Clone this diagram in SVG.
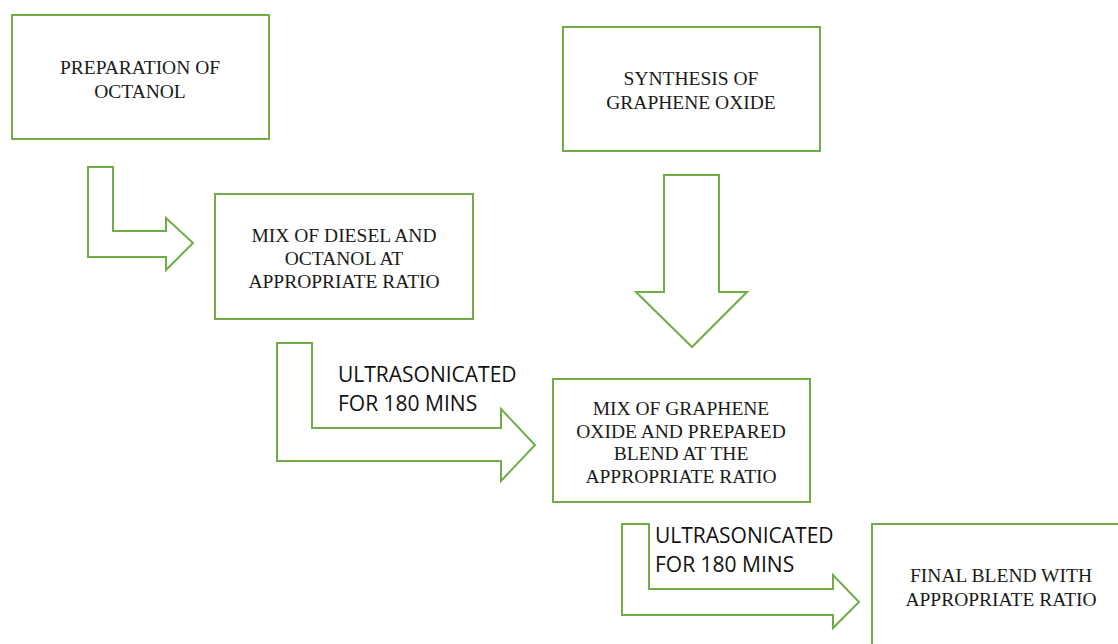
<svg xmlns="http://www.w3.org/2000/svg" width="1118" height="644" viewBox="0 0 1118 644">
<style>
.box{fill:#fff;stroke:#70AD47;stroke-width:2}
.arr{fill:#fff;stroke:#70AD47;stroke-width:2;stroke-linejoin:miter}
.t{font-family:"Liberation Serif","Times New Roman",serif;font-size:19.5px;fill:#1a1a1a;text-anchor:middle}
.s{font-family:"Open Sans","Liberation Sans",sans-serif;font-size:21px;fill:#111}
</style>
<rect width="1118" height="644" fill="#fff"/>
<g id="connectors">
<path class="arr" d="M88,167 H113 V231 H166 V218 L193,243 L166,270 V257 H88 Z"/>
<path class="arr" d="M277,343 H312 V428 H501 V409 L535,445 L501,481 V461 H277 Z"/>
<path class="arr" d="M664,175 H719 V292 H747 L692,347 L636,292 H664 Z"/>
<path class="arr" d="M622,524 H649 V589 H833 V575 L859,602 L833,628 V615 H622 Z"/>
<text class="s" x="338" y="382">ULTRASONICATED</text>
<text class="s" x="338" y="411">FOR 180 MINS</text>
<text class="s" x="655" y="543">ULTRASONICATED</text>
<text class="s" x="655" y="572">FOR 180 MINS</text>
</g>
<g id="prep">
<rect class="box" x="12" y="15" width="257" height="124"/>
<text class="t" x="140" y="74">PREPARATION OF</text>
<text class="t" x="140" y="98">OCTANOL</text>
</g>
<g id="synthesis">
<rect class="box" x="563" y="27" width="257" height="124"/>
<text class="t" x="691" y="85">SYNTHESIS OF</text>
<text class="t" x="691" y="109">GRAPHENE OXIDE</text>
</g>
<g id="mixdiesel">
<rect class="box" x="215" y="194" width="258" height="125"/>
<text class="t" x="344" y="242">MIX OF DIESEL AND</text>
<text class="t" x="344" y="265">OCTANOL AT</text>
<text class="t" x="344" y="288">APPROPRIATE RATIO</text>
</g>
<g id="mixgo">
<rect class="box" x="553" y="379" width="257" height="123"/>
<text class="t" x="681" y="415">MIX OF GRAPHENE</text>
<text class="t" x="681" y="438">OXIDE AND PREPARED</text>
<text class="t" x="681" y="460">BLEND AT THE</text>
<text class="t" x="681" y="483">APPROPRIATE RATIO</text>
</g>
<g id="final">
<rect class="box" x="872" y="524" width="260" height="140"/>
<text class="t" x="1001" y="582">FINAL BLEND WITH</text>
<text class="t" x="1001" y="606">APPROPRIATE RATIO</text>
</g>
</svg>
